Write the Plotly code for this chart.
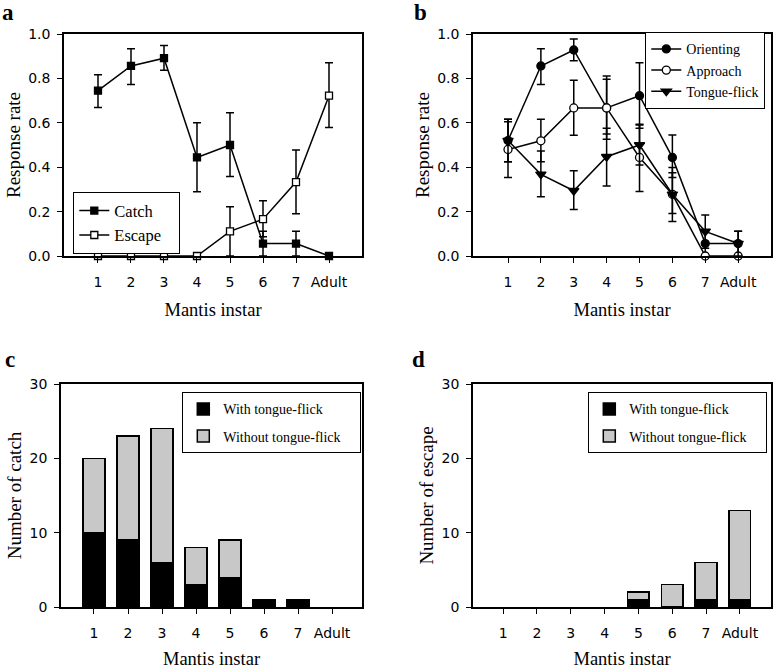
import plotly.graph_objects as go

W, H = 773, 669

instars = ["1", "2", "3", "4", "5", "6", "7", "Adult"]

# Panel a
catch_rate = [0.745, 0.856, 0.891, 0.444, 0.500, 0.056, 0.056, 0.0]
catch_hi = [0.816, 0.934, 0.948, 0.600, 0.645, 0.111, 0.111, 0.0]
catch_lo = [0.669, 0.772, 0.837, 0.289, 0.358, 0.0, 0.0, 0.0]
escape_rate = [0.0, 0.0, 0.0, 0.0, 0.111, 0.166, 0.333, 0.722]
escape_hi = [0.0, 0.0, 0.0, 0.0, 0.222, 0.249, 0.477, 0.871]
escape_lo = [0.0, 0.0, 0.0, 0.0, 0.0, 0.087, 0.190, 0.579]

# Panel b
orient = [0.52, 0.856, 0.928, 0.667, 0.722, 0.444, 0.056, 0.056]
orient_hi = [0.616, 0.934, 0.977, 0.811, 0.871, 0.545, 0.111, 0.111]
orient_lo = [0.425, 0.772, 0.879, 0.526, 0.575, 0.354, 0.0, 0.0]
approach = [0.48, 0.519, 0.667, 0.667, 0.444, 0.278, 0.0, 0.0]
approach_hi = [0.605, 0.616, 0.792, 0.796, 0.590, 0.375, 0.0, 0.0]
approach_lo = [0.354, 0.425, 0.544, 0.550, 0.290, 0.192, 0.0, 0.0]
tongue = [0.52, 0.368, 0.294, 0.447, 0.500, 0.278, 0.111, 0.056]
tongue_hi = [0.616, 0.473, 0.384, 0.575, 0.593, 0.399, 0.185, 0.111]
tongue_lo = [0.425, 0.267, 0.209, 0.315, 0.410, 0.155, 0.035, 0.0]

# Panel c / d
catch_with = [10, 9, 6, 3, 4, 1, 1, 0]
catch_without = [10, 14, 18, 5, 5, 0, 0, 0]
escape_with = [0, 0, 0, 0, 1, 0, 1, 1]
escape_without = [0, 0, 0, 0, 1, 3, 5, 12]

xs = list(range(1, len(instars) + 1))

SERIF = "Liberation Serif, Times New Roman, serif"
SANS = "DejaVu Sans, Arial, sans-serif"
GRAY = "#c8c8c8"
NB = "\u00a0"


def px(x):
    return x / W


def py(y):
    return 1 - y / H


def errs(v, hi, lo):
    return [h - a for a, h in zip(v, hi)], [a - l for a, l in zip(v, lo)]


fig = go.Figure()


def line_trace(y, hi, lo, name, symbol, fill, xa, ya, legend, size, pad=0):
    up, dn = errs(y, hi, lo)
    fig.add_trace(go.Scatter(
        x=xs, y=y, name=name + NB * pad, mode="lines+markers",
        line=dict(color="black", width=1.5),
        marker=dict(symbol=symbol, size=size, color=fill, line=dict(color="black", width=1.3)),
        error_y=dict(type="data", symmetric=False, array=up, arrayminus=dn,
                     color="black", thickness=1.5, width=4),
        xaxis=xa, yaxis=ya, legend=legend, cliponaxis=False,
    ))


line_trace(catch_rate, catch_hi, catch_lo, "Catch", "square", "black", "x", "y", "legend", 7)
line_trace(escape_rate, escape_hi, escape_lo, "Escape", "square", "white", "x", "y", "legend", 7, pad=3)
line_trace(orient, orient_hi, orient_lo, "Orienting", "circle", "black", "x2", "y2", "legend2", 8)
line_trace(approach, approach_hi, approach_lo, "Approach", "circle", "white", "x2", "y2", "legend2", 8)
line_trace(tongue, tongue_hi, tongue_lo, "Tongue-flick", "triangle-down", "black", "x2", "y2", "legend2", 9)


def bar_trace(y, name, color, xa, ya, legend, pad=0):
    fig.add_trace(go.Bar(
        x=xs, y=[v if v else None for v in y], name=name + NB * pad, width=0.64,
        marker=dict(color=color, line=dict(color="black", width=1.5)),
        xaxis=xa, yaxis=ya, legend=legend, legendgroup=name + legend,
    ))


bar_trace(catch_with, "With tongue-flick", "black", "x3", "y3", "legend3")
bar_trace(catch_without, "Without tongue-flick", GRAY, "x3", "y3", "legend3", pad=4)
bar_trace(escape_with, "With tongue-flick", "black", "x4", "y4", "legend4")
bar_trace(escape_without, "Without tongue-flick", GRAY, "x4", "y4", "legend4", pad=4)


def xaxis(domain, rng, anchor):
    return dict(domain=domain, range=rng, anchor=anchor, automargin=False,
                tickvals=xs, ticktext=instars, ticks="outside", ticklen=5,
                tickwidth=1.3, tickcolor="black", ticklabelstandoff=7,
                showline=True, linecolor="black", linewidth=1.5, mirror=True,
                showgrid=False, zeroline=False,
                tickfont=dict(family=SANS, size=14, color="black"),
                title=dict(text="Mantis instar", font=dict(family=SERIF, size=18.5, color="black"),
                           standoff=15))


def yaxis(domain, rng, tickvals, fmt, title, anchor):
    return dict(domain=domain, range=rng, anchor=anchor, automargin=False,
                tickvals=tickvals, tickformat=fmt, ticks="outside", ticklen=5,
                tickwidth=1.3, tickcolor="black", ticklabelstandoff=4,
                showline=True, linecolor="black", linewidth=1.5, mirror=True,
                showgrid=False, zeroline=False,
                tickfont=dict(family=SANS, size=14, color="black"),
                title=dict(text=title, font=dict(family=SERIF, size=19, color="black"),
                           standoff=3))


rate_ticks = [0, 0.2, 0.4, 0.6, 0.8, 1.0]
count_ticks = [0, 10, 20, 30]

top_dom = [py(256), py(34)]
bot_dom = [py(607), py(384)]

fig.update_layout(
    width=W, height=H, margin=dict(l=0, r=0, t=0, b=0, autoexpand=False),
    paper_bgcolor="white", plot_bgcolor="white",
    barmode="stack", showlegend=True,
    xaxis=xaxis([px(64), px(362)], [-0.03, 9.0], "y"),
    yaxis=yaxis(top_dom, [0, 1.0], rate_ticks, ".1f", "Response rate", "x"),
    xaxis2=xaxis([px(473), px(771)], [-0.065, 9.0], "y2"),
    yaxis2=yaxis(top_dom, [0, 1.0], rate_ticks, ".1f", "Response rate", "x2"),
    xaxis3=xaxis([px(61), px(362)], [0.03, 8.88], "y3"),
    yaxis3=yaxis(bot_dom, [0, 30], count_ticks, "d", "Number of catch", "x3"),
    xaxis4=xaxis([px(473), px(771)], [0.11, 8.92], "y4"),
    yaxis4=yaxis(bot_dom, [0, 30], count_ticks, "d", "Number of escape", "x4"),
)

legend_common = dict(yanchor="top", bgcolor="white",
                     bordercolor="black", borderwidth=1.3, itemwidth=30)

fig.update_layout(
    legend=dict(x=px(73), xanchor="left", y=py(192), traceorder="normal",
                font=dict(family=SERIF, size=16.5, color="black"), **legend_common),
    legend2=dict(x=px(765), xanchor="right", y=py(32), traceorder="normal",
                 font=dict(family=SERIF, size=14, color="black"), **legend_common),
    legend3=dict(x=px(182), xanchor="left", y=py(392), traceorder="grouped",
                 font=dict(family=SERIF, size=14, color="black"),
                 tracegroupgap=6, **legend_common),
    legend4=dict(x=px(588), xanchor="left", y=py(392), traceorder="grouped",
                 font=dict(family=SERIF, size=14, color="black"),
                 tracegroupgap=6, **legend_common),
)

letters = [("a", 0, 22), ("b", 412, 22), ("c", 3, 369), ("d", 410, 369)]
for t, lx, ly in letters:
    fig.add_annotation(text="<b>%s</b>" % t, x=px(lx), y=py(ly), xref="paper", yref="paper",
                       xanchor="left", yanchor="bottom", yshift=-5, showarrow=False,
                       font=dict(family=SERIF, size=23, color="black"))

fig.write_html("out.html", config={"displayModeBar": False},
               post_script="document.body.style.margin='0px';document.body.style.overflow='hidden';")
